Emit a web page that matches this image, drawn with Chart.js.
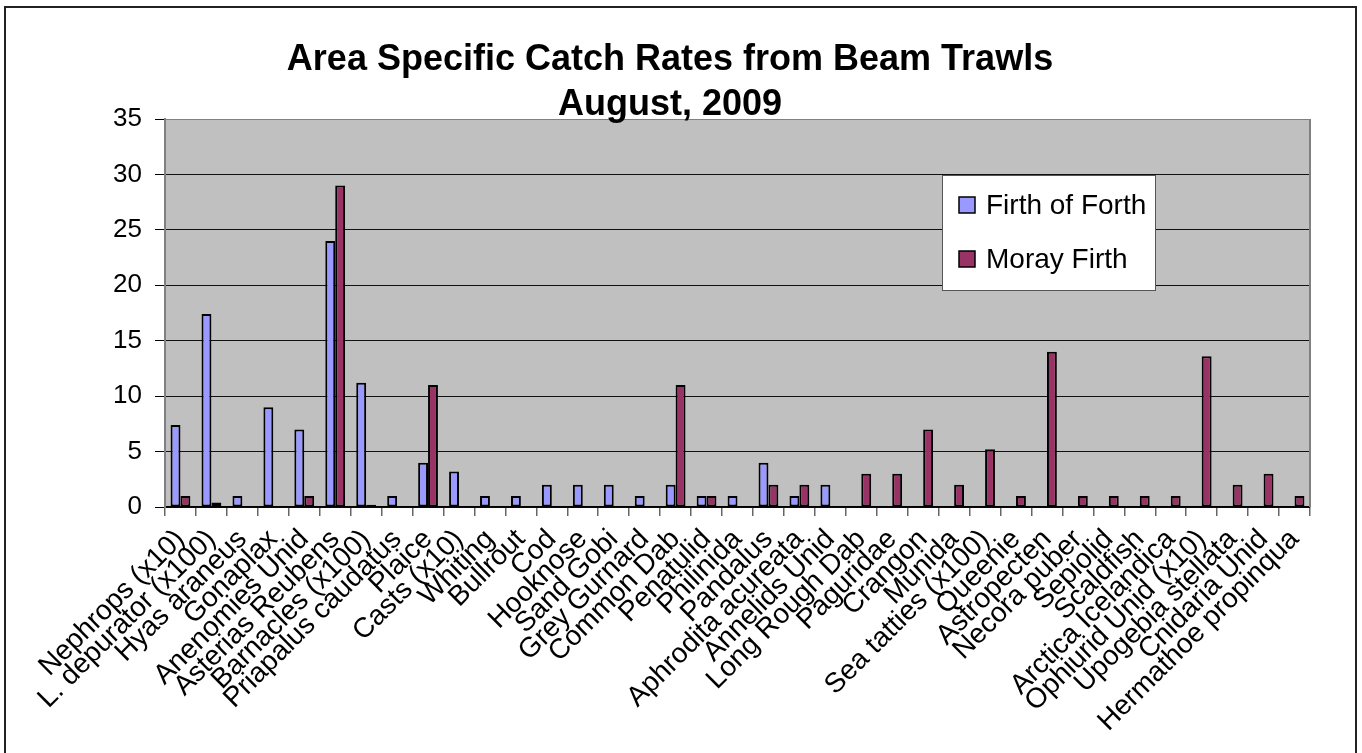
<!DOCTYPE html>
<html>
<head>
<meta charset="utf-8">
<script src="https://cdn.jsdelivr.net/npm/chart.js@4.4.1/dist/chart.umd.min.js"></script>
<style>
  html, body { margin: 0; padding: 0; background: #fff; overflow: hidden; }
  #frame { position: absolute; left: 4px; top: 6px; width: 1353px; height: 800px;
           box-sizing: border-box; border: 2px solid #222; }
  #wrap { position: absolute; left: 0; top: 0; width: 1362px; height: 753px; }
</style>
</head>
<body>
<div id="frame"></div>
<div id="wrap"><canvas id="c" width="1362" height="753"></canvas></div>
<script>
// Species caught (catch per unit area; some scaled as noted in the label)
const species = [
  'Nephrops (x10)', 'L. depurator (x100)', 'Hyas araneus', 'Gonaplax', 'Anenomies Unid',
  'Asterias Reubens', 'Barnacles (x100)', 'Priapalus caudatus', 'Plaice', 'Casts (x10)',
  'Whiting', 'Bullrout', 'Cod', 'Hooknose', 'Sand Gobi', 'Grey Gurnard', 'Common Dab',
  'Penatulid', 'Philinida', 'Pandalus', 'Aphrodita acureata', 'Annelids Unid',
  'Long Rough Dab', 'Paguridae', 'Crangon', 'Munida', 'Sea tatties (x100)', 'Queenie',
  'Astropecten', 'Necora puber', 'Sepiolid', 'Scaldfish', 'Arctica Icelandica',
  'Ophiurid Unid (x10)', 'Upogebia stellata', 'Cnidaria Unid', 'Hermathoe propinqua'
];

// Firth of Forth catch rates (null = not caught)
const firthOfForth = [
  7.4, 17.4, 1, 9, 7, 24, 11.2, 1, 4, 3.2, 1, 1, 2, 2, 2, 1, 2, 1, 1, 4, 1, 2,
  null, null, null, null, null, null, null, null, null, null, null, null, null, null, null
];

// Moray Firth catch rates (null = not caught)
const morayFirth = [
  1, 0.4, null, null, 1, 29, 0.2, null, 11, null, null, null, null, null, null, null, 11,
  1, null, 2, 2, null, 3, 3, 7, 2, 5.2, 1, 14, 1, 1, 1, 1, 13.6, 2, 3, 1
];

const yTickValues = [0, 5, 10, 15, 20, 25, 30, 35];

const titleLines = ['Area Specific Catch Rates from Beam Trawls', 'August, 2009'];

const FONT = '"Liberation Sans", Arial, sans-serif';

// Silver plot background
const plotBackground = {
  id: 'plotBackground',
  beforeDraw(chart) {
    const { ctx, chartArea: a } = chart;
    ctx.save();
    ctx.fillStyle = '#C0C0C0';
    ctx.fillRect(a.left, a.top, a.right - a.left, a.bottom - a.top);
    ctx.restore();
  }
};

// Grey right-hand edge of the plot area
const plotEdge = {
  id: 'plotEdge',
  beforeDatasetsDraw(chart) {
    const { ctx, chartArea: a } = chart;
    ctx.save();
    ctx.strokeStyle = '#808080';
    ctx.lineWidth = 2;
    ctx.beginPath();
    ctx.moveTo(a.right, a.top);
    ctx.lineTo(a.right, a.bottom);
    ctx.stroke();
    ctx.restore();
  }
};

// Two-line chart heading
const heading = {
  id: 'heading',
  afterDraw(chart) {
    const { ctx } = chart;
    ctx.save();
    ctx.font = 'bold 36px ' + FONT;
    ctx.fillStyle = '#000';
    ctx.textAlign = 'center';
    ctx.textBaseline = 'middle';
    ctx.fillText(titleLines[0], 670, 60);
    ctx.fillText(titleLines[1], 670, 105);
    ctx.restore();
  }
};

// Legend box placed inside the plot area
const legendBox = {
  id: 'legendBox',
  afterDraw(chart) {
    const { ctx } = chart;
    const x = 942, y = 175, w = 213, h = 115;
    ctx.save();
    ctx.fillStyle = '#fff';
    ctx.fillRect(x, y, w, h);
    ctx.strokeStyle = '#555';
    ctx.lineWidth = 1;
    ctx.strokeRect(x + 0.5, y + 0.5, w, h);
    ctx.font = '28px ' + FONT;
    ctx.textBaseline = 'middle';
    ctx.textAlign = 'left';
    chart.data.datasets.forEach((ds, i) => {
      const cy = 205 + i * 54;
      ctx.fillStyle = ds.backgroundColor;
      ctx.fillRect(959, cy - 8, 16, 16);
      ctx.strokeStyle = '#000';
      ctx.lineWidth = 1.5;
      ctx.strokeRect(959, cy - 8, 16, 16);
      ctx.fillStyle = '#000';
      ctx.fillText(ds.label, 986, cy + 1);
    });
    ctx.restore();
  }
};

new Chart(document.getElementById('c'), {
  type: 'bar',
  data: {
    labels: species,
    datasets: [
      {
        label: 'Firth of Forth',
        data: firthOfForth,
        backgroundColor: '#9999FF',
        borderColor: '#000',
        borderWidth: 2,
        borderSkipped: false
      },
      {
        label: 'Moray Firth',
        data: morayFirth,
        backgroundColor: '#993366',
        borderColor: '#000',
        borderWidth: 2,
        borderSkipped: false
      }
    ]
  },
  options: {
    responsive: false,
    animation: false,
    devicePixelRatio: 1,
    categoryPercentage: 0.64,
    barPercentage: 1.0,
    layout: { padding: { top: 119, right: 52, bottom: 0, left: 0 } },
    plugins: {
      legend: { display: false },
      title: { display: false },
      tooltip: { enabled: false }
    },
    scales: {
      x: {
        afterFit(scale) { scale.height = 246; },
        grid: {
          display: true,
          drawOnChartArea: false,
          drawTicks: true,
          tickLength: 9,
          tickColor: '#666',
          lineWidth: 1.5,
          offset: true
        },
        border: { display: true, color: '#000', width: 1.5 },
        ticks: {
          autoSkip: false,
          maxRotation: 45,
          minRotation: 45,
          padding: 7,
          color: '#000',
          font: { family: FONT, size: 28 }
        }
      },
      y: {
        min: 0,
        max: 35,
        afterFit(scale) { scale.width = 165; },
        afterBuildTicks(scale) { scale.ticks = yTickValues.map(v => ({ value: v })); },
        grid: {
          color: ctx => (ctx.tick && ctx.tick.value === 35 ? '#808080' : '#111'),
          lineWidth: 1,
          drawTicks: true,
          tickLength: 10,
          tickColor: '#000'
        },
        border: { display: true, color: '#808080', width: 2 },
        ticks: {
          padding: 13,
          color: '#000',
          font: { family: FONT, size: 26 }
        }
      }
    }
  },
  plugins: [plotBackground, plotEdge, heading, legendBox]
});
</script>
</body>
</html>
